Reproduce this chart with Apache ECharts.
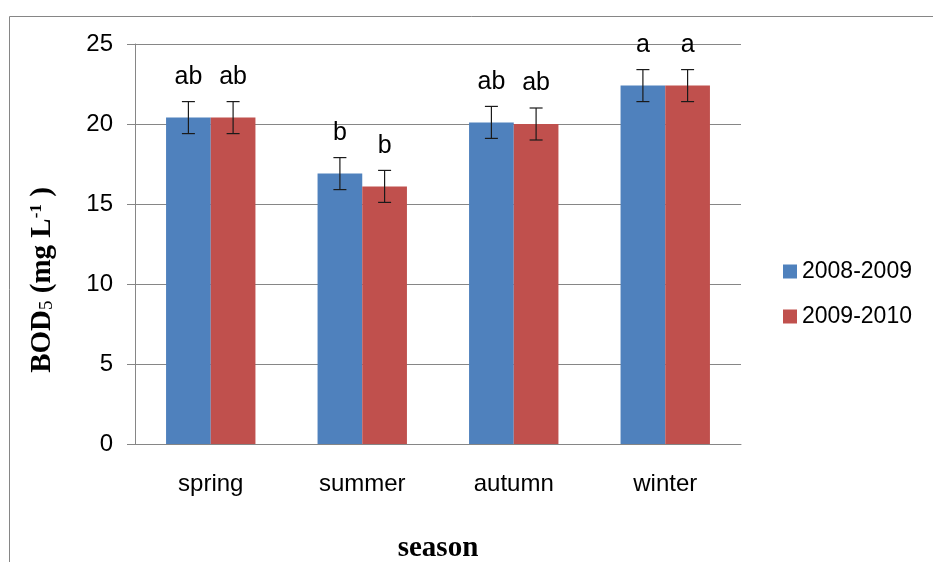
<!DOCTYPE html>
<html>
<head>
<meta charset="utf-8">
<script src="https://cdn.jsdelivr.net/npm/echarts@6/dist/echarts.min.js"></script>
<style>
  html, body { margin: 0; padding: 0; background: #fff; }
  #chart { width: 933px; height: 562px; }
</style>
</head>
<body>
<div id="chart"></div>
<script>
// Seasonal BOD5 means with standard errors and significance letters
const seasons = ['spring', 'summer', 'autumn', 'winter'];
const seriesNames = ['2008-2009', '2009-2010'];
const bod0809 = [20.4, 16.9, 20.1, 22.4];
const bod0910 = [20.4, 16.1, 20.0, 22.4];
const err0809 = [1.0, 1.0, 1.0, 1.0];
const err0910 = [1.0, 1.0, 1.0, 1.0];
const letters0809 = ['ab', 'b', 'ab', 'a'];
const letters0910 = ['ab', 'b', 'ab', 'a'];
const yTicks = [0, 5, 10, 15, 20, 25];

const COLORS = ['#4F81BD', '#C0504D'];
const GRID_GRAY = '#868686';
const CAT_GAP = 0.41;
const SANS = 'Liberation Sans, Arial, sans-serif';
const SERIF = 'Liberation Serif, Times New Roman, serif';

const chart = echarts.init(document.getElementById('chart'), null, { renderer: 'canvas' });

// Error bars drawn over each bar; side = -1 for the left bar, +1 for the right one
function errorSeries(values, errs, side) {
  return {
    type: 'custom',
    silent: true,
    z: 5,
    data: values.map((v, i) => [i, v, errs[i]]),
    encode: { x: 0, y: 1 },
    renderItem: function (params, api) {
      const idx = api.value(0);
      const v = api.value(1);
      const e = api.value(2);
      const catW = api.size([1, 0])[0];
      const barW = catW * (1 - CAT_GAP) / 2;
      const c = api.coord([idx, v]);
      const x = c[0] + side * barW / 2;
      const yHi = api.coord([idx, v + e])[1];
      const yLo = api.coord([idx, v - e])[1];
      const half = 6.5;
      const style = { stroke: '#1a1a1a', lineWidth: 1.2 };
      return {
        type: 'group',
        children: [
          { type: 'line', shape: { x1: x, y1: yHi, x2: x, y2: yLo }, style: style },
          { type: 'line', shape: { x1: x - half, y1: yHi, x2: x + half, y2: yHi }, style: style },
          { type: 'line', shape: { x1: x - half, y1: yLo, x2: x + half, y2: yLo }, style: style }
        ]
      };
    }
  };
}

function barSeries(name, values, letters, color) {
  return {
    name: name,
    type: 'bar',
    data: values,
    barGap: '0%',
    barCategoryGap: (CAT_GAP * 100) + '%',
    itemStyle: { color: color },
    label: {
      show: true,
      position: 'top',
      distance: 28,
      formatter: p => letters[p.dataIndex],
      fontFamily: SANS,
      fontSize: 25,
      color: '#000'
    }
  };
}

const option = {
  animation: false,
  backgroundColor: '#fff',
  graphic: [
    {
      type: 'polyline',
      silent: true,
      shape: { points: [[9.5, 600], [9.5, 16.5], [940, 16.5]] },
      style: { stroke: GRID_GRAY, lineWidth: 1, fill: null }
    }
  ],
  grid: { left: 135, right: 192, top: 44, bottom: 118, containLabel: false, outerBoundsMode: 'none' },
  legend: {
    orient: 'vertical',
    left: 783,
    top: 260,
    padding: 0,
    itemWidth: 14,
    itemHeight: 14,
    itemGap: 22,
    icon: 'rect',
    data: seriesNames,
    textStyle: { fontFamily: SANS, fontSize: 23, color: '#000' }
  },
  xAxis: {
    type: 'category',
    data: seasons,
    name: 'season',
    nameLocation: 'middle',
    nameGap: 90,
    nameTextStyle: { fontFamily: SERIF, fontWeight: 'bold', fontSize: 29, color: '#000' },
    axisLine: { lineStyle: { color: GRID_GRAY } },
    axisTick: { length: 7, lineStyle: { color: GRID_GRAY } },
    axisLabel: { fontFamily: SANS, fontSize: 24, color: '#000', margin: 28 }
  },
  yAxis: {
    type: 'value',
    min: yTicks[0],
    max: yTicks[yTicks.length - 1],
    interval: yTicks[1] - yTicks[0],
    name: '{b|BOD}{s|5}{b| (mg L}{p|-1}{b| )}',
    nameLocation: 'middle',
    nameGap: 78,
    nameRotate: 90,
    nameTextStyle: {
      padding: [0, 72, 0, 0],
      rich: {
        b: { fontFamily: SERIF, fontWeight: 'bold', fontSize: 29, color: '#000' },
        s: { fontFamily: SERIF, fontSize: 19, color: '#000', verticalAlign: 'bottom' },
        p: { fontFamily: SERIF, fontWeight: 'bold', fontSize: 17, color: '#000', verticalAlign: 'top' }
      }
    },
    axisLine: { show: true, lineStyle: { color: GRID_GRAY } },
    axisTick: { show: true, length: 8, lineStyle: { color: GRID_GRAY } },
    axisLabel: { fontFamily: SANS, fontSize: 24, color: '#000', margin: 22 },
    splitLine: { lineStyle: { color: GRID_GRAY, width: 1 } }
  },
  series: [
    barSeries(seriesNames[0], bod0809, letters0809, COLORS[0]),
    barSeries(seriesNames[1], bod0910, letters0910, COLORS[1]),
    errorSeries(bod0809, err0809, -1),
    errorSeries(bod0910, err0910, 1)
  ]
};

chart.setOption(option);
</script>
</body>
</html>
